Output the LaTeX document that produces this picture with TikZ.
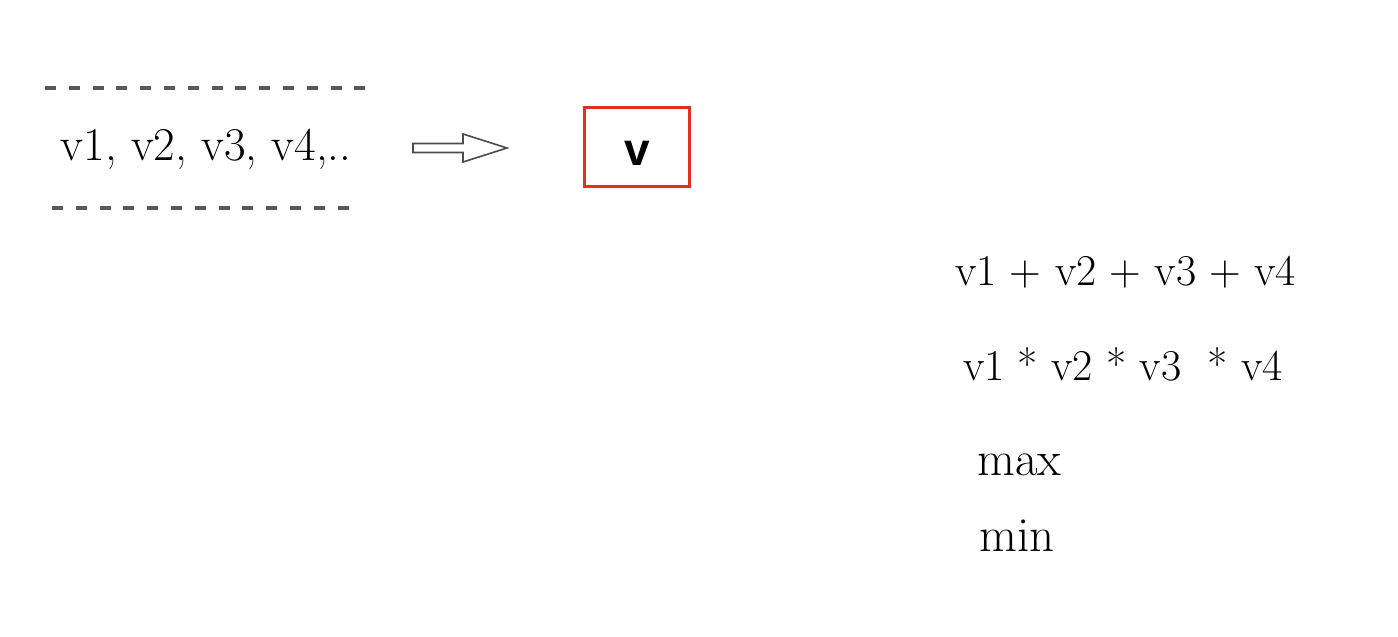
\documentclass[tikz,border=0pt]{standalone}
\usepackage{fontspec}
\newfontfamily\boxfont{Liberation Sans}
\definecolor{boxred}{RGB}{224,48,34}
\tikzset{
  sep/.style={draw=black!65, line width=4.5pt, dash pattern=on 11pt off 12.8pt},
  txt/.style={inner sep=0pt, font=\fontsize{44}{50}\selectfont},
  redbox/.style={draw=boxred, line width=3.4pt, minimum width=105pt, minimum height=79pt, inner sep=0pt, font=\boxfont\bfseries\fontsize{46}{50}\selectfont},
  fatarrow/.style={draw=black!70, line width=1.6pt, fill=white, line join=miter}
}
\begin{document}
\begin{tikzpicture}[x=1pt,y=-1pt]
\useasboundingbox (0,0) rectangle (1398,637);
\coordinate (t1) at (45,88);
\coordinate (t2) at (366,88);
\coordinate (b1) at (52,208);
\coordinate (b2) at (352,208);
\draw[sep] (t1) -- (t2);
\draw[sep] (b1) -- (b2);
\node[txt, anchor=base, font=\fontsize{47}{50}\selectfont] (list) at (206,160) {v1, v2, v3, v4,..};
\coordinate (as) at (413,148);
\coordinate (at) at (507,148);
\draw[fatarrow] (as) ++(0,-4.5) -- ++(50,0) -- ++(0,-9.5) -- (at) -- ++(-44,14) -- ++(0,-9.5) -- ++(-50,0) -- cycle;
\node[redbox] (v) at (637,147) {\raisebox{-18pt}[0pt][0pt]{v}};
\node[txt, anchor=base west] (sum) at (955,285) {v1 + v2 + v3 + v4};
\node[txt, anchor=base west] (prod) at (963,380) {v1 * v2 * v3\ \ * v4};
\node[txt, anchor=base west, font=\fontsize{49}{50}\selectfont] (max) at (977,475) {max};
\node[txt, anchor=base west, font=\fontsize{49}{50}\selectfont] (min) at (979,551) {min};
\end{tikzpicture}
\end{document}
